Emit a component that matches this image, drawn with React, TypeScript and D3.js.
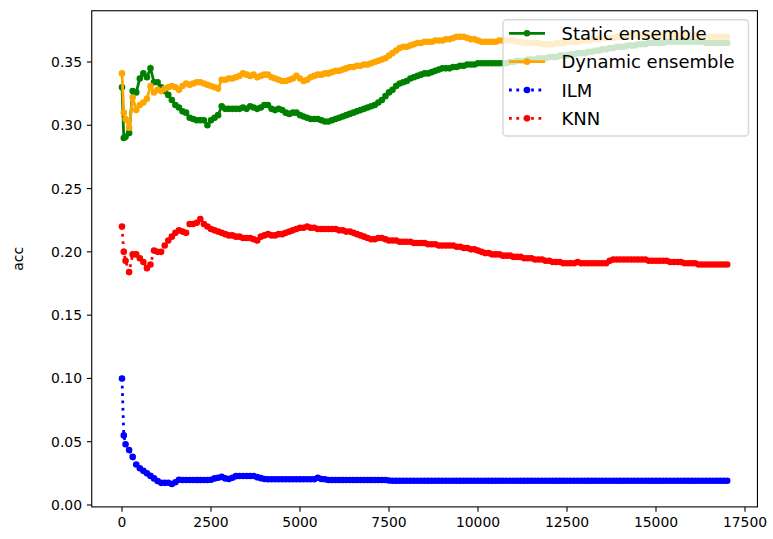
import React from 'react';
import * as d3 from 'd3';

// evaluation grid (number of samples seen)
const SAMPLE_X: number[] = [0, 50, ...d3.range(100, 17001, 100)];

const STATIC_ENSEMBLE = [
  0.330, 0.290,
  0.291, 0.294, 0.327, 0.326, 0.337, 0.341, 0.338, 0.345, 0.334, 0.334,
  0.330, 0.327, 0.324, 0.320, 0.316, 0.314, 0.311, 0.310, 0.306, 0.305,
  0.304, 0.304, 0.304, 0.300, 0.304, 0.306, 0.308, 0.315, 0.313, 0.313,
  0.313, 0.313, 0.313, 0.314, 0.313, 0.315, 0.314, 0.313, 0.314, 0.316,
  0.316, 0.313, 0.312, 0.313, 0.312, 0.310, 0.309, 0.310, 0.310, 0.308,
  0.307, 0.306, 0.305, 0.305, 0.305, 0.304, 0.303, 0.303, 0.304, 0.305,
  0.306, 0.307, 0.308, 0.309, 0.310, 0.311, 0.312, 0.313, 0.314, 0.315,
  0.316, 0.318, 0.320, 0.323, 0.326, 0.328, 0.331, 0.333, 0.334, 0.335,
  0.337, 0.338, 0.339, 0.340, 0.341, 0.341, 0.342, 0.343, 0.344, 0.345,
  0.345, 0.345, 0.346, 0.346, 0.347, 0.347, 0.348, 0.348, 0.348, 0.349,
  0.349, 0.349, 0.349, 0.349, 0.349, 0.349, 0.349, 0.349, 0.350, 0.350,
  0.351, 0.351, 0.351, 0.352, 0.352, 0.352, 0.353, 0.353, 0.353, 0.354,
  0.354, 0.354, 0.355, 0.355, 0.355, 0.356, 0.356, 0.357, 0.357, 0.357,
  0.358, 0.358, 0.359, 0.359, 0.360, 0.360, 0.361, 0.361, 0.362, 0.362,
  0.362, 0.363, 0.363, 0.363, 0.364, 0.364, 0.364, 0.365, 0.365, 0.365,
  0.365, 0.365, 0.366, 0.366, 0.366, 0.366, 0.366, 0.366, 0.366, 0.366,
  0.366, 0.366, 0.366, 0.365, 0.365, 0.365, 0.365, 0.365, 0.365, 0.365,
];

const DYNAMIC_ENSEMBLE = [
  0.341, 0.310,
  0.305, 0.298, 0.322, 0.312, 0.316, 0.318, 0.321, 0.331, 0.326, 0.328,
  0.327, 0.329, 0.330, 0.331, 0.330, 0.328, 0.331, 0.333, 0.332, 0.333,
  0.334, 0.334, 0.333, 0.332, 0.331, 0.330, 0.329, 0.336, 0.336, 0.337,
  0.337, 0.338, 0.339, 0.341, 0.340, 0.339, 0.340, 0.338, 0.339, 0.340,
  0.340, 0.338, 0.337, 0.336, 0.335, 0.335, 0.336, 0.337, 0.339, 0.337,
  0.335, 0.336, 0.338, 0.339, 0.340, 0.340, 0.341, 0.341, 0.342, 0.343,
  0.343, 0.344, 0.345, 0.346, 0.346, 0.347, 0.347, 0.348, 0.348, 0.349,
  0.350, 0.351, 0.352, 0.353, 0.355, 0.357, 0.359, 0.361, 0.362, 0.362,
  0.363, 0.364, 0.365, 0.365, 0.366, 0.366, 0.366, 0.367, 0.367, 0.367,
  0.368, 0.368, 0.369, 0.370, 0.370, 0.370, 0.369, 0.368, 0.368, 0.367,
  0.366, 0.366, 0.366, 0.366, 0.366, 0.367, 0.367, 0.367, 0.367, 0.367,
  0.366, 0.366, 0.365, 0.365, 0.365, 0.365, 0.365, 0.364, 0.364, 0.364,
  0.364, 0.365, 0.365, 0.365, 0.366, 0.366, 0.366, 0.366, 0.367, 0.367,
  0.367, 0.368, 0.368, 0.368, 0.369, 0.369, 0.369, 0.369, 0.370, 0.370,
  0.370, 0.370, 0.371, 0.371, 0.371, 0.371, 0.371, 0.371, 0.371, 0.371,
  0.371, 0.371, 0.371, 0.371, 0.371, 0.371, 0.371, 0.371, 0.371, 0.371,
  0.371, 0.371, 0.370, 0.370, 0.370, 0.370, 0.370, 0.370, 0.370, 0.370,
];

const ILM = [
  0.100, 0.055,
  0.048, 0.0435, 0.038, 0.032, 0.029, 0.027, 0.025, 0.023, 0.021, 0.019,
  0.0175, 0.0175, 0.0176, 0.0166, 0.018, 0.020, 0.0198, 0.0198, 0.0198, 0.0198,
  0.0198, 0.0198, 0.0198, 0.0198, 0.020, 0.021, 0.0215, 0.0222, 0.021, 0.0205,
  0.0215, 0.0228, 0.0229, 0.0229, 0.0229, 0.0229, 0.0229, 0.022, 0.0212, 0.0205,
  0.0203, 0.0203, 0.0203, 0.0203, 0.0203, 0.0203, 0.0203, 0.0203, 0.0203, 0.0203,
  0.0203, 0.0203, 0.0203, 0.0203, 0.0215, 0.0205, 0.0203, 0.0198, 0.0198, 0.0198,
  0.0198, 0.0198, 0.0198, 0.0198, 0.0198, 0.0198, 0.0198, 0.0198, 0.0198, 0.0198,
  0.0198, 0.0198, 0.0198, 0.0198, 0.0193, 0.0192, 0.0192, 0.0192, 0.0192, 0.0192,
  0.0192, 0.0192, 0.0192, 0.0192, 0.0192, 0.0192, 0.0192, 0.0192, 0.0192, 0.0192,
  0.0192, 0.0192, 0.0192, 0.0192, 0.0192, 0.0192, 0.0192, 0.0192, 0.0192, 0.0192,
  0.0192, 0.0192, 0.0192, 0.0192, 0.0192, 0.0192, 0.0192, 0.0192, 0.0192, 0.0192,
  0.0192, 0.0192, 0.0192, 0.0192, 0.0192, 0.0192, 0.0192, 0.0192, 0.0192, 0.0192,
  0.0192, 0.0192, 0.0192, 0.0192, 0.0192, 0.0192, 0.0192, 0.0192, 0.0192, 0.0192,
  0.0192, 0.0192, 0.0192, 0.0192, 0.0192, 0.0192, 0.0192, 0.0192, 0.0192, 0.0192,
  0.0192, 0.0192, 0.0192, 0.0192, 0.0192, 0.0192, 0.0192, 0.0192, 0.0192, 0.0192,
  0.0192, 0.0192, 0.0192, 0.0192, 0.0192, 0.0192, 0.0192, 0.0192, 0.0192, 0.0192,
  0.0192, 0.0192, 0.0192, 0.0192, 0.0192, 0.0192, 0.0192, 0.0192, 0.0192, 0.0192,
];

const KNN = [
  0.220, 0.200,
  0.193, 0.184, 0.198, 0.198, 0.195, 0.192, 0.187, 0.190, 0.201, 0.200,
  0.200, 0.205, 0.209, 0.212, 0.215, 0.217, 0.216, 0.215, 0.222, 0.222,
  0.223, 0.226, 0.222, 0.220, 0.218, 0.217, 0.216, 0.215, 0.214, 0.213,
  0.213, 0.212, 0.212, 0.211, 0.211, 0.211, 0.210, 0.209, 0.212, 0.213,
  0.214, 0.213, 0.213, 0.214, 0.214, 0.215, 0.216, 0.217, 0.218, 0.219,
  0.219, 0.220, 0.219, 0.219, 0.218, 0.218, 0.218, 0.218, 0.218, 0.218,
  0.217, 0.217, 0.216, 0.216, 0.215, 0.214, 0.213, 0.212, 0.211, 0.210,
  0.210, 0.211, 0.211, 0.210, 0.209, 0.209, 0.209, 0.208, 0.208, 0.208,
  0.208, 0.207, 0.207, 0.207, 0.207, 0.206, 0.206, 0.206, 0.205, 0.205,
  0.205, 0.205, 0.205, 0.204, 0.204, 0.203, 0.203, 0.202, 0.202, 0.201,
  0.200, 0.199, 0.199, 0.198, 0.198, 0.198, 0.197, 0.197, 0.197, 0.196,
  0.196, 0.196, 0.195, 0.195, 0.195, 0.194, 0.194, 0.194, 0.193, 0.193,
  0.192, 0.192, 0.192, 0.191, 0.191, 0.191, 0.191, 0.192, 0.191, 0.191,
  0.191, 0.191, 0.191, 0.191, 0.191, 0.191, 0.193, 0.194, 0.194, 0.194,
  0.194, 0.194, 0.194, 0.194, 0.194, 0.194, 0.194, 0.193, 0.193, 0.193,
  0.193, 0.193, 0.193, 0.192, 0.192, 0.192, 0.192, 0.191, 0.191, 0.191,
  0.191, 0.190, 0.190, 0.190, 0.190, 0.190, 0.190, 0.190, 0.190, 0.190,
];

const SERIES_NAMES = ['Static ensemble', 'Dynamic ensemble', 'ILM', 'KNN'];
const SERIES_VALUES = [STATIC_ENSEMBLE, DYNAMIC_ENSEMBLE, ILM, KNN];
const SERIES_COLORS = ['green', 'orange', 'blue', 'red'];
const SERIES_DOTTED = [false, false, true, true];

const X_TICKS = [0, 2500, 5000, 7500, 10000, 12500, 15000, 17500];
const Y_TICKS = [0, 0.05, 0.1, 0.15, 0.2, 0.25, 0.3, 0.35];
const Y_LABEL = 'acc';

const W = 773;
const H = 539;
const FONT = "'DejaVu Sans', sans-serif";

const x = d3.scaleLinear().domain([0, 17500]).range([122, 745]);
const y = d3.scaleLinear().domain([0, 0.35]).range([505, 62]);
const frameL = x(-850);
const frameR = x(17850);
const frameT = y(0.3905);
const frameB = y(-0.0015);

const LW = 2.78;
const DOT = `${LW} ${LW * 1.65}`;
const MR = 2.6;
const MSW = 1.4;

export default function App() {
  const line = d3
    .line<number>()
    .x((_, i) => x(SAMPLE_X[i]))
    .y((d) => y(d));

  const legL = 503;
  const legR = frameR - 9;
  const legT = frameT + 9;
  const legB = 136;
  const rowY = (i: number) => 33.3 + i * 28.35;
  const hx0 = 509;
  const hx1 = 545;

  return (
    <svg
      width={W}
      height={H}
      style={{ position: 'absolute', left: 0, top: 0, background: '#fff' }}
      fontFamily={FONT}
    >
      <rect x={0} y={0} width={W} height={H} fill="#fff" />
      <defs>
        <clipPath id="plotclip">
          <rect x={frameL} y={frameT} width={frameR - frameL} height={frameB - frameT} />
        </clipPath>
      </defs>

      <g clipPath="url(#plotclip)">
        {SERIES_VALUES.map((vals, si) => (
          <g key={SERIES_NAMES[si]}>
            <path
              d={line(vals) || ''}
              fill="none"
              stroke={SERIES_COLORS[si]}
              strokeWidth={LW}
              strokeDasharray={SERIES_DOTTED[si] ? DOT : undefined}
            />
            {vals.map((v, i) => (
              <circle
                key={i}
                cx={x(SAMPLE_X[i])}
                cy={y(v)}
                r={MR}
                fill={SERIES_COLORS[si]}
                stroke={SERIES_COLORS[si]}
                strokeWidth={MSW}
              />
            ))}
          </g>
        ))}
      </g>

      {/* frame */}
      <rect
        x={frameL}
        y={frameT}
        width={frameR - frameL}
        height={frameB - frameT}
        fill="none"
        stroke="#000"
        strokeWidth={1.1}
      />

      {/* x ticks */}
      {X_TICKS.map((t) => (
        <g key={'x' + t}>
          <line x1={x(t)} x2={x(t)} y1={frameB} y2={frameB + 4.86} stroke="#000" strokeWidth={1.1} />
          <text x={x(t)} y={frameB + 20.4} fontSize={13.9} textAnchor="middle" fill="#000">
            {t}
          </text>
        </g>
      ))}

      {/* y ticks */}
      {Y_TICKS.map((t) => (
        <g key={'y' + t}>
          <line x1={frameL - 4.86} x2={frameL} y1={y(t)} y2={y(t)} stroke="#000" strokeWidth={1.1} />
          <text x={frameL - 9.7} y={y(t) + 5} fontSize={13.9} textAnchor="end" fill="#000">
            {t.toFixed(2)}
          </text>
        </g>
      ))}

      <text
        transform={`translate(23, ${(frameT + frameB) / 2}) rotate(-90)`}
        fontSize={13.9}
        textAnchor="middle"
        fill="#000"
      >
        {Y_LABEL}
      </text>

      {/* legend */}
      <rect
        x={legL}
        y={legT}
        width={legR - legL}
        height={legB - legT}
        rx={3.6}
        ry={3.6}
        fill="#fff"
        fillOpacity={0.8}
        stroke="#cccccc"
        strokeOpacity={0.8}
        strokeWidth={1.39}
      />
      {SERIES_NAMES.map((name, si) => (
        <g key={'leg' + name}>
          <line
            x1={hx0}
            x2={hx1}
            y1={rowY(si)}
            y2={rowY(si)}
            stroke={SERIES_COLORS[si]}
            strokeWidth={LW}
            strokeDasharray={SERIES_DOTTED[si] ? DOT : undefined}
          />
          <circle
            cx={(hx0 + hx1) / 2}
            cy={rowY(si)}
            r={MR}
            fill={SERIES_COLORS[si]}
            stroke={SERIES_COLORS[si]}
            strokeWidth={MSW}
          />
          <text x={561.5} y={rowY(si) + 6.6} fontSize={18} fill="#000">
            {name}
          </text>
        </g>
      ))}
    </svg>
  );
}
